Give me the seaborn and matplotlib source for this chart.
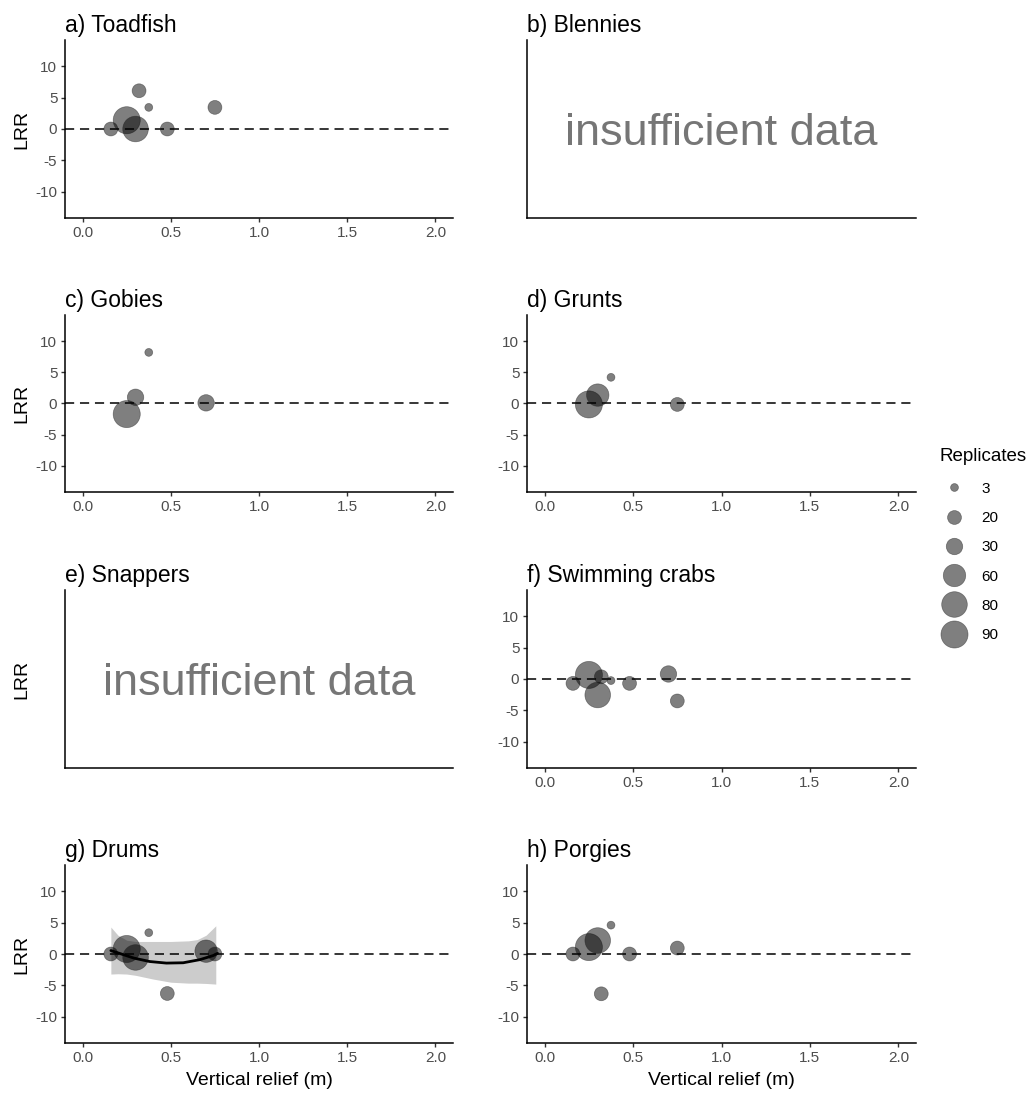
import numpy as np
import pandas as pd
import matplotlib
matplotlib.use("Agg")
import matplotlib.pyplot as plt
import seaborn as sns

sns.set_theme(style="ticks")
plt.rcParams['font.family'] = ['Liberation Sans', 'DejaVu Sans']
plt.rcParams['axes.unicode_minus'] = False

# ---------------- data ----------------
titles = ["a) Toadfish", "b) Blennies", "c) Gobies", "d) Grunts",
          "e) Snappers", "f) Swimming crabs", "g) Drums", "h) Porgies"]

relief_a = [0.16, 0.25, 0.30, 0.32, 0.375, 0.48, 0.75]
lrr_a = [0.0, 1.4, 0.0, 6.1, 3.45, 0.0, 3.45]
rep_a = [20, 90, 80, 20, 3, 20, 20]

relief_c = [0.25, 0.30, 0.375, 0.70]
lrr_c = [-1.7, 1.0, 8.2, 0.1]
rep_c = [90, 30, 3, 30]

relief_d = [0.25, 0.30, 0.375, 0.75]
lrr_d = [-0.15, 1.35, 4.2, -0.15]
rep_d = [90, 60, 3, 20]

relief_f = [0.16, 0.25, 0.30, 0.32, 0.375, 0.48, 0.70, 0.75]
lrr_f = [-0.7, 0.65, -2.55, 0.35, -0.25, -0.7, 0.8, -3.5]
rep_f = [20, 90, 80, 20, 3, 20, 30, 20]

relief_g = [0.16, 0.25, 0.30, 0.375, 0.48, 0.70, 0.75]
lrr_g = [0.0, 0.8, -0.55, 3.4, -6.3, 0.45, 0.0]
rep_g = [20, 90, 80, 3, 20, 60, 20]

relief_h = [0.16, 0.25, 0.30, 0.32, 0.375, 0.48, 0.75]
lrr_h = [0.0, 1.1, 2.15, -6.35, 4.6, 0.0, 0.95]
rep_h = [20, 90, 80, 20, 3, 20, 20]

# fitted curve and confidence band in panel g
fit_x = [0.16, 0.29, 0.38, 0.475, 0.57, 0.665, 0.74, 0.765]
fit_y = [0.55, -0.65, -1.2, -1.45, -1.4, -0.9, -0.25, 0.1]
band_x = [0.16, 0.20, 0.25, 0.30, 0.40, 0.50, 0.60, 0.65, 0.70, 0.755]
band_hi = [4.3, 3.0, 2.2, 2.0, 2.0, 2.0, 2.1, 2.3, 3.0, 4.5]
band_lo = [-3.2, -3.15, -3.2, -3.4, -4.0, -4.5, -4.65, -4.65, -4.7, -4.8]

x_ticks = [0.0, 0.5, 1.0, 1.5, 2.0]
y_ticks = [-10, -5, 0, 5, 10]

panel_data = {
    "a) Toadfish": (relief_a, lrr_a, rep_a),
    "b) Blennies": None,
    "c) Gobies": (relief_c, lrr_c, rep_c),
    "d) Grunts": (relief_d, lrr_d, rep_d),
    "e) Snappers": None,
    "f) Swimming crabs": (relief_f, lrr_f, rep_f),
    "g) Drums": (relief_g, lrr_g, rep_g),
    "h) Porgies": (relief_h, lrr_h, rep_h),
}

frames = []
for t, v in panel_data.items():
    if v is None:
        continue
    frames.append(pd.DataFrame({"group": t, "relief": v[0], "lrr": v[1],
                                "replicates": np.array(v[2], dtype=int)}))
df = pd.concat(frames, ignore_index=True)

# ---------------- styling ----------------
W, H = 1030, 1095
fig = plt.figure(figsize=(W / 100, H / 100), dpi=100)

cols = [(65, 453), (527, 916)]
rows = [(40, 218), (315, 492), (590, 768), (865, 1043)]

SIZES = (32, 380)
SNORM = (3, 90)
PT_KW = dict(color="black", alpha=0.5, edgecolor="#222222", linewidth=0.5)

for i, title in enumerate(titles):
    r, c = divmod(i, 2)
    l, rr = cols[c]
    t, b = rows[r]
    ax = fig.add_axes([l / W, 1 - b / H, (rr - l) / W, (b - t) / H])
    sns.despine(ax=ax)
    for sp in ("left", "bottom"):
        ax.spines[sp].set_linewidth(1.1)
        ax.spines[sp].set_color("black")
    ax.set_title(title, loc="left", fontsize=16.5, pad=6, color="black")

    if panel_data[title] is None:
        ax.set_xticks([])
        ax.set_yticks([])
        ax.text(0.5, 0.475, "insufficient data", transform=ax.transAxes,
                ha="center", va="center", fontsize=32.5, color="#767676")
    else:
        sub = df[df["group"] == title]
        if title == "g) Drums":
            ax.fill_between(band_x, band_lo, band_hi, color="#cccccc",
                            linewidth=0, zorder=1)
        ax.axhline(0, color="black", linestyle=(0, (6, 3.8)), linewidth=1.1,
                   zorder=2)
        sns.scatterplot(data=sub, x="relief", y="lrr", size="replicates",
                        sizes=SIZES, size_norm=SNORM, legend=False, ax=ax,
                        zorder=3, **PT_KW)
        if title == "g) Drums":
            sns.lineplot(x=fit_x, y=fit_y, color="black", linewidth=2.0,
                         ax=ax, zorder=4)
        ax.set_xlim(-0.1, 2.1)
        ax.set_ylim(-14.2, 14.2)
        ax.set_xticks(x_ticks)
        ax.set_xticklabels([f"{v:.1f}" for v in x_ticks])
        ax.set_yticks(y_ticks)
        ax.tick_params(length=3, width=1.0, color="#333333",
                       labelcolor="#4d4d4d", labelsize=11, pad=2.5)

    if c == 0:
        ax.set_ylabel("LRR", fontsize=14, color="black")
        ax.yaxis.set_label_coords(-0.09, 0.5)
    else:
        ax.set_ylabel("")
    if r == 3:
        ax.set_xlabel("Vertical relief (m)", fontsize=14, color="black",
                      labelpad=5)
    else:
        ax.set_xlabel("")

# ---------------- legend ----------------
leg_ax = fig.add_axes([0.92, 0.45, 0.05, 0.05])
sns.scatterplot(data=df, x="relief", y="lrr", size="replicates",
                sizes=SIZES, size_norm=SNORM, legend="full", ax=leg_ax, **PT_KW)
for coll in list(leg_ax.collections):
    coll.remove()
leg_ax.axis("off")
sns.move_legend(leg_ax, loc="upper left", bbox_to_anchor=(936 / W, 1 - 445 / H),
                bbox_transform=fig.transFigure, frameon=False,
                title="Replicates", fontsize=11, title_fontsize=13.5,
                labelspacing=1.0, handletextpad=0.75, alignment="left",
                borderaxespad=0, borderpad=0.2)
leg = leg_ax.get_legend()
for txt in leg.get_texts():
    txt.set_color("black")
leg.get_title().set_color("black")
leg._legend_box.sep = 12
for h in leg.legend_handles:
    try:
        h.set_alpha(0.5)
        h.set_markerfacecolor("black")
        h.set_markeredgecolor("#222222")
    except Exception:
        pass

fig.savefig("out.png", dpi=100)
